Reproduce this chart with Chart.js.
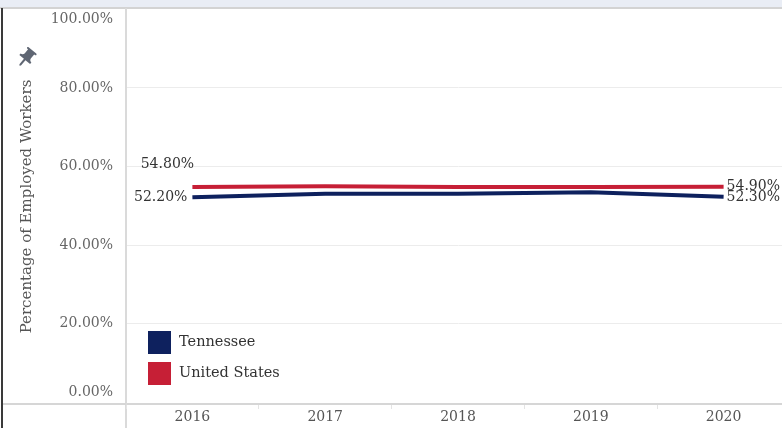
<!DOCTYPE html>
<html>
<head>
<meta charset="utf-8">
<script src="https://cdn.jsdelivr.net/npm/chart.js@4/dist/chart.umd.min.js"></script>
<style>
  html, body { margin: 0; padding: 0; background: #fff; overflow: hidden; }
  #wrap { position: relative; width: 782px; height: 428px; overflow: hidden; }
  #chart { position: absolute; left: 0; top: 0; }
  .band { position: absolute; left: 0; top: 0; width: 782px; height: 7px; background: #e9edf5; }
  .bandline { position: absolute; left: 0; top: 7px; width: 782px; height: 2px; background: #d3d3d3; }
  .lborder { position: absolute; left: 1px; top: 8px; width: 2px; height: 420px; background: #3a3a3a; }
  .yline { position: absolute; left: 125px; top: 8px; width: 2px; height: 420px; background: #dadada; }
  .xline { position: absolute; left: 3px; top: 403px; width: 779px; height: 2px; background: #d6d6d6; }
  #pin { position: absolute; left: 14px; top: 46px; width: 24px; height: 24px; }
</style>
</head>
<body>
<div id="wrap">
  <div class="band"></div>
  <div class="bandline"></div>
  <div class="yline"></div>
  <div class="xline"></div>
  <div class="lborder"></div>
  <canvas id="chart" width="790" height="428"></canvas>
  <svg id="pin" viewBox="0 0 24 24"><g transform="rotate(40 12 12)"><path fill="#5f6673" d="M16 9V4h1c.55 0 1-.45 1-1s-.45-1-1-1H7c-.55 0-1 .45-1 1s.45 1 1 1h1v5c0 1.66-1.34 3-3 3v2h5.97v7l1 1 1-1v-7H19v-2c-1.66 0-3-1.34-3-3z"/></g></svg>
</div>
<script>
'use strict';
const years = ['2016', '2017', '2018', '2019', '2020'];
const tennessee = [52.2, 53.1, 53.1, 53.5, 52.3];
const unitedStates = [54.8, 55.0, 54.8, 54.8, 54.9];
const yTicks = [0, 20, 40, 60, 80, 100];

const FONT = '"DejaVu Serif", "Liberation Serif", serif';
const BLUE = '#0e215e', RED = '#c61f36';
const pct = (v) => v.toFixed(2) + '%';

// end-point labels, like the source's first/last marks
const endLabels = {
  id: 'endLabels',
  afterDatasetsDraw(chart) {
    const ctx = chart.ctx;
    ctx.save();
    ctx.font = '14px ' + FONT;
    ctx.fillStyle = '#333';
    ctx.textBaseline = 'middle';
    chart.data.datasets.forEach((ds, i) => {
      const pts = chart.getDatasetMeta(i).data;
      const a = pts[0], b = pts[pts.length - 1];
      if (ds.label === 'United States') {
        ctx.textAlign = 'center';
        ctx.fillText(pct(ds.data[0]), a.x - 25, a.y - 23);
      } else {
        ctx.textAlign = 'right';
        ctx.fillText(pct(ds.data[0]), a.x - 5, a.y);
      }
      ctx.textAlign = 'left';
      ctx.fillText(pct(ds.data[ds.data.length - 1]), b.x + 3, b.y);
    });
    ctx.restore();
  }
};

// square-swatch legend inside the plot, bottom left
const boxLegend = {
  id: 'boxLegend',
  afterDraw(chart) {
    const ctx = chart.ctx, area = chart.chartArea;
    ctx.save();
    ctx.font = '14.5px ' + FONT;
    ctx.textBaseline = 'middle';
    ctx.textAlign = 'left';
    chart.data.datasets.forEach((ds, i) => {
      const x = area.left + 22, y = area.bottom - 73 + i * 31;
      ctx.fillStyle = ds.borderColor;
      ctx.fillRect(x, y, 23, 23);
      ctx.fillStyle = '#333';
      ctx.fillText(ds.label, x + 31, y + 11);
    });
    ctx.restore();
  }
};

new Chart(document.getElementById('chart').getContext('2d'), {
  type: 'line',
  data: {
    labels: years,
    datasets: [
      { label: 'Tennessee', data: tennessee, borderColor: BLUE, backgroundColor: BLUE,
        borderWidth: 4, pointRadius: 0, tension: 0 },
      { label: 'United States', data: unitedStates, borderColor: RED, backgroundColor: RED,
        borderWidth: 4, pointRadius: 0, tension: 0 },
    ],
  },
  options: {
    responsive: false, animation: false, devicePixelRatio: 1,
    layout: { padding: { top: 9, left: 0, right: 0, bottom: 0 } },
    plugins: { legend: { display: false }, tooltip: { enabled: false } },
    scales: {
      x: {
        offset: true,
        grid: { offset: true, drawOnChartArea: false, drawTicks: true, tickLength: 5, color: '#e4e4e4' },
        border: { display: true, color: '#d6d6d6', width: 2 },
        ticks: { color: '#555', font: { family: FONT, size: 14 }, padding: 0, maxRotation: 0 },
        afterFit(s) { s.height = 24; s.paddingLeft = 0; s.paddingRight = 0; },
      },
      y: {
        min: -0.4, max: 100.1,
        afterBuildTicks(s) { s.ticks = yTicks.map((v) => ({ value: v })); },
        afterFit(s) { s.width = 126; s.paddingTop = 0; s.paddingBottom = 0; },
        grid: {
          drawTicks: false,
          color: (c) => (c.tick && c.tick.value > 0 && c.tick.value < 100) ? '#ececec' : 'rgba(0,0,0,0)',
        },
        border: { display: true, color: '#dadada', width: 1 },
        ticks: {
          color: '#666', padding: 13, font: { family: FONT, size: 14, lineHeight: 1.45 },
          // top and bottom labels are nudged inside the frame, as in the source
          callback: (v) => v === 100 ? ['', pct(v)] : v === 0 ? [pct(v), ''] : pct(v),
        },
        title: {
          display: true, text: 'Percentage of Employed Workers', color: '#555',
          font: { family: FONT, size: 15 }, padding: { top: 18, bottom: 0 },
        },
      },
    },
  },
  plugins: [endLabels, boxLegend],
});
</script>
</body>
</html>
